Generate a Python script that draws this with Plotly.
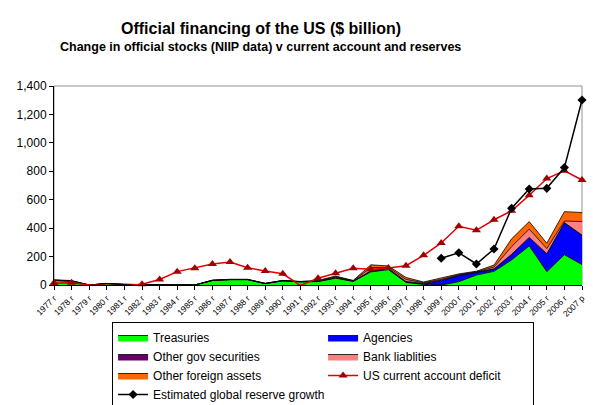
import plotly.graph_objects as go

years = [f"{y} r" for y in range(1977, 2007)] + ["2007 p"]

treasuries = [32, 28, 0, 10, 4, 4, 4, 4, 0, 32, 38, 38, 10, 30, 22, 24, 48, 25, 92, 108,
              18, 4, 0, 23, 70, 96, 176, 275, 94, 213, 143]
agencies = [0, 0, 0, 0, 0, 0, 0, 0, 0, 0, 0, 0, 0, 0, 1, 1, 3, 2, 5, 5,
            4, 5, 32, 43, 18, 16, 40, 60, 126, 226, 208]
other_gov = [0, 0, 0, 0, 0, 0, 0, 0, 0, 0, 0, 0, 0, 0, 0, 1, 2, 1, 3, 3,
             3, 2, 2, 2, 1, 2, 0, 0, 0, 0, 0]
bank = [2, 1, 0, 0, 0, 0, 0, 0, 0, 1, 1, 1, 1, 1, 1, 3, 5, 2, 22, 8,
        14, 5, 5, 5, 4, 12, 54, 58, 36, 11, 95]
other_foreign = [3, 2, 0, 1, 1, 1, 1, 1, 0, 1, 1, 1, 1, 1, 1, 3, 5, 2, 20, 10,
                 14, 5, 8, 5, 4, 14, 55, 53, 38, 66, 64]
ca_deficit = [14, 15, -0.3, -2, -5, 5.5, 38.7, 94, 118, 147, 161, 121, 99, 79, -3, 48,
              82, 118, 110, 120, 136, 209, 296, 413, 385, 459, 522, 631, 749, 803, 739]
reserve_growth = [None] * 22 + [188, 227, 148, 253, 540, 675, 680, 826, 1302]

FONT = "Arial, Liberation Sans, sans-serif"

fig = go.Figure()

areas = [
    ("Treasuries", treasuries, "#00FF00"),
    ("Agencies", agencies, "#0000FF"),
    ("Other gov securities", other_gov, "#660066"),
    ("Bank liablities", bank, "#FF8080"),
    ("Other foreign assets", other_foreign, "#FF6600"),
]
for name, vals, col in areas:
    fig.add_trace(go.Scatter(
        x=years, y=vals, name=name, mode="lines", stackgroup="one",
        fillcolor=col, line=dict(color="black", width=0.8),
    ))

fig.add_trace(go.Scatter(
    x=years, y=ca_deficit, name="US current account deficit", mode="lines+markers",
    line=dict(color="#E00000", width=1.5),
    marker=dict(symbol="triangle-up", size=8, color="#A00000"),
    cliponaxis=False,
))
fig.add_trace(go.Scatter(
    x=years, y=reserve_growth, name="Estimated global reserve growth", mode="lines+markers",
    line=dict(color="black", width=1.5),
    marker=dict(symbol="diamond", size=7, color="black"),
    connectgaps=False, cliponaxis=False,
))

PLOT_TOP, PLOT_BOTTOM = 86, 285
PH = PLOT_BOTTOM - PLOT_TOP

def ypaper(ypix):
    return (PLOT_BOTTOM - ypix) / PH

fig.update_layout(
    width=593, height=405,
    margin=dict(l=54, r=11, t=PLOT_TOP, b=405 - PLOT_BOTTOM, autoexpand=False),
    paper_bgcolor="white", plot_bgcolor="white",
    font=dict(family=FONT, size=12, color="black"),
    showlegend=True,
    legend=dict(
        orientation="h", x=0.11, y=ypaper(322), xanchor="left", yanchor="top",
        entrywidth=165, entrywidthmode="pixels",
        bordercolor="black", borderwidth=1, bgcolor="white",
        font=dict(family=FONT, size=12), traceorder="normal",
        tracegroupgap=0,
    ),
    annotations=[
        dict(text="<b>Official financing of the US ($ billion)</b>", x=0.392, y=ypaper(28),
             xref="paper", yref="paper", showarrow=False, yanchor="middle", font=dict(size=16)),
        dict(text="<b>Change in official stocks (NIIP data) v current account and reserves</b>",
             x=0.392, y=ypaper(47), xref="paper", yref="paper", showarrow=False,
             yanchor="middle", font=dict(size=12.5)),
    ],
    shapes=[dict(type="rect", xref="paper", yref="paper", x0=0, x1=1, y0=0, y1=1,
                 line=dict(color="#909090", width=1), layer="below")],
)

fig.update_xaxes(
    type="category", range=[0, 30], showgrid=False, showline=True, linecolor="black",
    linewidth=1, ticks="outside", ticklen=4, tickcolor="black", tickangle=-45,
    tickfont=dict(size=8.5), zeroline=False,
)
fig.update_yaxes(
    range=[0, 1400], dtick=200, tickformat=",", showgrid=False, showline=True,
    linecolor="black", linewidth=1, ticks="outside", ticklen=4, tickcolor="black",
    tickfont=dict(size=12), zeroline=False,
)

fig.write_html("out.html")
